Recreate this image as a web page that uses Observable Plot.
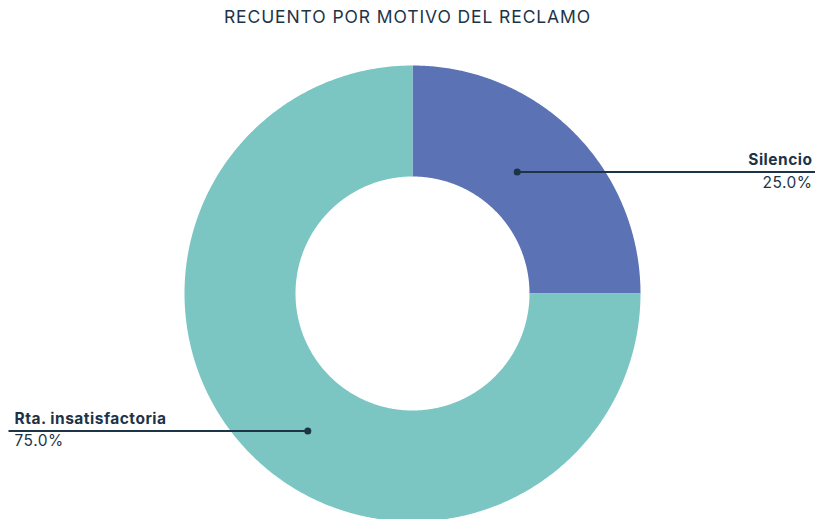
<!DOCTYPE html>
<html>
<head>
<meta charset="utf-8">
<script src="https://cdn.jsdelivr.net/npm/d3@7"></script>
<script src="https://cdn.jsdelivr.net/npm/@observablehq/plot@0.6"></script>
<style>
  html, body { margin: 0; padding: 0; background: #ffffff; }
  #title { height: 34px; line-height: 34px; text-align: center; font-family: Inter, "Liberation Sans", sans-serif; font-size: 17.5px; color: #1d3448; letter-spacing: 0.9px; }
  #chart svg { display: block; }
</style>
</head>
<body>
<div id="title">RECUENTO POR MOTIVO DEL RECLAMO</div>
<div id="chart"></div>
<script>
// ---- data ----
const categories = ["Silencio", "Rta. insatisfactoria"];
const shares = [25, 75];
const colors = ["#5b72b5", "#7bc6c2"];

// ---- layout ----
const W = 815, H = 485;
const CX = 412, CY = 259, R = 228;  // pixel center and outer radius
const innerRatio = 117 / 228;
const ink = "#1d3448";

const pie = d3.pie().sort(null).value(d => d.v)(categories.map((c, i) => ({c, v: shares[i]})));
const total = d3.sum(shares);

// polygon points for each slice (data units: outer radius = 1)
const pts = [];
for (const a of pie) {
  const n = Math.max(2, Math.ceil((a.endAngle - a.startAngle) / (Math.PI / 360)));
  for (let k = 0; k <= n; k++) {
    const t = a.startAngle + (a.endAngle - a.startAngle) * k / n;
    pts.push({cat: a.data.c, x: Math.sin(t), y: Math.cos(t)});
  }
  for (let k = n; k >= 0; k--) {
    const t = a.startAngle + (a.endAngle - a.startAngle) * k / n;
    pts.push({cat: a.data.c, x: innerRatio * Math.sin(t), y: innerRatio * Math.cos(t)});
  }
}

const xmin = -CX / R, xmax = (W - CX) / R;
const ymin = -(H - CY) / R, ymax = CY / R;

const labels = pie.map(a => {
  const mid = (a.startAngle + a.endAngle) / 2 - 0.105;
  const rr = 0.73;
  const ax = rr * Math.sin(mid), ay = rr * Math.cos(mid) - 8 / R;
  const right = Math.sin(mid) >= 0;
  return {
    name: a.data.c,
    pct: d3.format(".1f")(100 * a.data.v / total) + "%",
    ax, ay, right,
    lx: right ? xmax : xmin + 8 / R,
    tx: right ? xmax - 3 / R : xmin + 14 / R
  };
});
const rightL = labels.filter(d => d.right), leftL = labels.filter(d => !d.right);
const font = "Inter, 'Liberation Sans', sans-serif";

const textMarks = (data, anchor) => [
  Plot.text(data, {x: "tx", y: "ay", text: "name", textAnchor: anchor, dy: -12, fontWeight: 700, fontSize: 15.5, fill: ink, fontFamily: font, style: {letterSpacing: "0.5px"}}),
  Plot.text(data, {x: "tx", y: "ay", text: "pct", textAnchor: anchor, dy: 10.5, fontSize: 15.5, fill: ink, fontFamily: font, style: {letterSpacing: "0.5px"}})
];

const chart = Plot.plot({
  width: W, height: H, margin: 0,
  style: {background: "#ffffff"},
  x: {domain: [xmin, xmax], axis: null},
  y: {domain: [ymin, ymax], axis: null},
  color: {domain: categories, range: colors},
  marks: [
    Plot.line(pts, {x: "x", y: "y", z: "cat", fill: "cat", stroke: "none", curve: "linear-closed"}),
    Plot.link(labels, {x1: "ax", y1: "ay", x2: "lx", y2: "ay", stroke: ink, strokeWidth: 2}),
    Plot.dot(labels, {x: "ax", y: "ay", r: 3.5, fill: ink, stroke: "none"}),
    ...textMarks(rightL, "end"),
    ...textMarks(leftL, "start")
  ]
});
chart.querySelectorAll("text").forEach(t => t.setAttribute("letter-spacing", "0.5px"));
document.getElementById("chart").appendChild(chart);
</script>
</body>
</html>
